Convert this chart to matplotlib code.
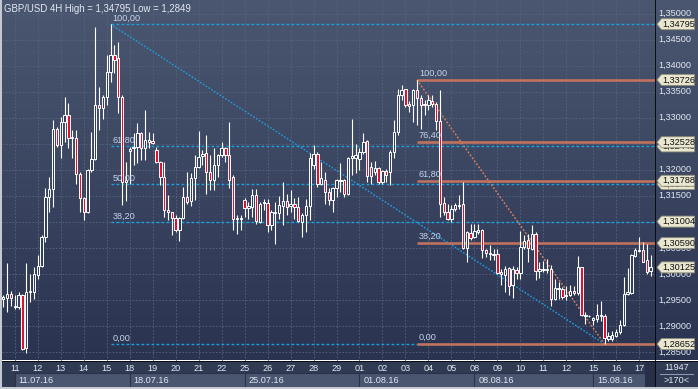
import numpy as np
import matplotlib
matplotlib.use('Agg')
import matplotlib.pyplot as plt
from matplotlib.colors import LinearSegmentedColormap
from matplotlib.patches import Polygon, Rectangle

plt.rcParams['font.family'] = ['Liberation Sans', 'DejaVu Sans']

# ---------------- data ----------------
opens = [1.2952, 1.2953, 1.2962, 1.2939, 1.2936, 1.2960, 1.2857, 1.2965, 1.2966, 1.2998,
         1.3016, 1.3071, 1.3148, 1.3163, 1.3279, 1.3247, 1.3291, 1.3305, 1.3260, 1.3260,
         1.3191, 1.3146, 1.3119, 1.3199, 1.3220, 1.3324, 1.3318, 1.3340, 1.3388, 1.3421,
         1.3414, 1.3340, 1.3177, 1.3236, 1.3241, 1.3244, 1.3270, 1.3241, 1.3254, 1.3255,
         1.3237, 1.3215, 1.3186, 1.3122, 1.3118, 1.3108, 1.3084, 1.3108, 1.3148, 1.3139,
         1.3184, 1.3205, 1.3227, 1.3233, 1.3195, 1.3180, 1.3210, 1.3229, 1.3242, 1.3228,
         1.3187, 1.3105, 1.3107, 1.3141, 1.3127, 1.3128, 1.3152, 1.3100, 1.3136, 1.3137,
         1.3093, 1.3118, 1.3117, 1.3130, 1.3139, 1.3130, 1.3135, 1.3128, 1.3100, 1.3114,
         1.3130, 1.3209, 1.3231, 1.3173, 1.3180, 1.3157, 1.3141, 1.3165, 1.3179, 1.3180,
         1.3154, 1.3222, 1.3222, 1.3220, 1.3234, 1.3255, 1.3205, 1.3196, 1.3203, 1.3177,
         1.3197, 1.3196, 1.3234, 1.3273, 1.3343, 1.3355, 1.3327, 1.3324, 1.3353, 1.3338,
         1.3324, 1.3324, 1.3332, 1.3327, 1.3293, 1.3137, 1.3119, 1.3105, 1.3124, 1.3130,
         1.3135, 1.3050, 1.3079, 1.3071, 1.3080, 1.3084, 1.3045, 1.3039, 1.3037, 1.3039,
         1.3004, 1.2998, 1.3011, 1.2978, 1.3007, 1.3002, 1.3052, 1.3066, 1.3048, 1.3077,
         1.3005, 1.3007, 1.3010, 1.3009, 1.2952, 1.2970, 1.2970, 1.2957, 1.2959, 1.2968,
         1.2964, 1.3013, 1.2919, 1.2920, 1.2911, 1.2914, 1.2919, 1.2920, 1.2875, 1.2874,
         1.2880, 1.2888, 1.2901, 1.2962, 1.2964, 1.3034, 1.3043, 1.3046, 1.3026, 1.3005]
highs = [1.2959, 1.3020, 1.2968, 1.2959, 1.2965, 1.2962, 1.3020, 1.3000, 1.3013, 1.3036,
         1.3074, 1.3164, 1.3186, 1.3295, 1.3282, 1.3302, 1.3340, 1.3329, 1.3276, 1.3276,
         1.3196, 1.3148, 1.3202, 1.3273, 1.3475, 1.3359, 1.3343, 1.3420, 1.34795, 1.3439,
         1.3446, 1.3343, 1.3215, 1.3244, 1.3270, 1.3289, 1.3273, 1.3314, 1.3273, 1.3271,
         1.3244, 1.3216, 1.3215, 1.3152, 1.3119, 1.3114, 1.3109, 1.3167, 1.3196, 1.3193,
         1.3228, 1.3274, 1.3237, 1.3266, 1.3228, 1.3241, 1.3231, 1.3253, 1.3244, 1.3292,
         1.3189, 1.3114, 1.3114, 1.3145, 1.3138, 1.3163, 1.3163, 1.3138, 1.3143, 1.3143,
         1.3122, 1.3138, 1.3150, 1.3177, 1.3154, 1.3161, 1.3145, 1.3148, 1.3116, 1.3143,
         1.3233, 1.3247, 1.3234, 1.3215, 1.3196, 1.3164, 1.3166, 1.3183, 1.3212, 1.3183,
         1.3225, 1.3298, 1.3250, 1.3241, 1.3271, 1.3257, 1.3215, 1.3216, 1.3205, 1.3199,
         1.3201, 1.3237, 1.3295, 1.3356, 1.3362, 1.3356, 1.3332, 1.3356, 1.33726, 1.3343,
         1.3334, 1.3343, 1.3343, 1.3330, 1.3353, 1.3148, 1.3135, 1.3132, 1.3137, 1.3151,
         1.3177, 1.3082, 1.3095, 1.3095, 1.3095, 1.3087, 1.3048, 1.3056, 1.3048, 1.3048,
         1.3010, 1.3015, 1.3013, 1.3016, 1.3013, 1.3082, 1.3074, 1.3077, 1.3093, 1.3080,
         1.3023, 1.3024, 1.3029, 1.3018, 1.2991, 1.2984, 1.2975, 1.2977, 1.2979, 1.2977,
         1.3034, 1.3014, 1.2926, 1.2921, 1.2917, 1.2943, 1.2947, 1.2923, 1.2888, 1.2891,
         1.2895, 1.2911, 1.2994, 1.3011, 1.3039, 1.3050, 1.3071, 1.3061, 1.3058, 1.3037]
lows = [1.2936, 1.2926, 1.2939, 1.2933, 1.2933, 1.2854, 1.2849, 1.2946, 1.2952, 1.2991,
        1.3013, 1.3061, 1.3119, 1.3128, 1.3244, 1.3222, 1.3253, 1.3241, 1.3222, 1.3173,
        1.3119, 1.3103, 1.3116, 1.3196, 1.3218, 1.3276, 1.3298, 1.3324, 1.3369, 1.3385,
        1.3308, 1.3132, 1.3140, 1.3173, 1.3209, 1.3212, 1.3218, 1.3218, 1.3241, 1.3250,
        1.3212, 1.3170, 1.3109, 1.3103, 1.3074, 1.3080, 1.3063, 1.3105, 1.3135, 1.3130,
        1.3141, 1.3203, 1.3210, 1.3154, 1.3161, 1.3161, 1.3187, 1.3225, 1.3215, 1.3164,
        1.3084, 1.3077, 1.3084, 1.3109, 1.3106, 1.3109, 1.3095, 1.3097, 1.3122, 1.3080,
        1.3084, 1.3058, 1.3106, 1.3093, 1.3113, 1.3119, 1.3105, 1.3100, 1.3071, 1.3080,
        1.3103, 1.3202, 1.3167, 1.3170, 1.3135, 1.3132, 1.3119, 1.3148, 1.3157, 1.3148,
        1.3151, 1.3189, 1.3193, 1.3199, 1.3231, 1.3177, 1.3173, 1.3189, 1.3173, 1.3173,
        1.3177, 1.3170, 1.3222, 1.3266, 1.3334, 1.3321, 1.3311, 1.3292, 1.3286, 1.3279,
        1.3305, 1.3314, 1.3321, 1.3276, 1.3109, 1.3113, 1.3103, 1.3100, 1.3120, 1.3125,
        1.3048, 1.3022, 1.3066, 1.3069, 1.3077, 1.3030, 1.3032, 1.3026, 1.3026, 1.3000,
        1.2978, 1.2965, 1.2959, 1.2953, 1.2991, 1.2991, 1.3048, 1.3023, 1.3045, 1.2988,
        1.2992, 1.3004, 1.3002, 1.2939, 1.2949, 1.2952, 1.2952, 1.2949, 1.2957, 1.2959,
        1.2959, 1.2920, 1.2904, 1.2917, 1.2901, 1.2907, 1.2909, 1.28652, 1.2872, 1.2872,
        1.2878, 1.2885, 1.2900, 1.2959, 1.2962, 1.3032, 1.3042, 1.3022, 1.3000, 1.2996]
closes = [1.2955, 1.2962, 1.2953, 1.2936, 1.2960, 1.2856, 1.2965, 1.2968, 1.3000, 1.3016,
          1.3071, 1.3148, 1.3163, 1.3279, 1.3247, 1.3291, 1.3305, 1.3260, 1.3263, 1.3191,
          1.3146, 1.3119, 1.3199, 1.3220, 1.3324, 1.3318, 1.3340, 1.3388, 1.3421, 1.3411,
          1.3340, 1.3177, 1.3180, 1.3240, 1.3244, 1.3270, 1.3241, 1.3257, 1.3257, 1.3252,
          1.3215, 1.3186, 1.3122, 1.3118, 1.3108, 1.3084, 1.3108, 1.3148, 1.3138, 1.3184,
          1.3205, 1.3225, 1.3231, 1.3195, 1.3180, 1.3210, 1.3229, 1.3242, 1.3228, 1.3181,
          1.3105, 1.3107, 1.3105, 1.3127, 1.3130, 1.3152, 1.3101, 1.3135, 1.3138, 1.3093,
          1.3118, 1.3116, 1.3132, 1.3139, 1.3128, 1.3135, 1.3128, 1.3101, 1.3114, 1.3130,
          1.3222, 1.3231, 1.3173, 1.3184, 1.3157, 1.3141, 1.3164, 1.3180, 1.3181, 1.3154,
          1.3222, 1.3227, 1.3228, 1.3234, 1.3253, 1.3188, 1.3188, 1.3203, 1.3177, 1.3197,
          1.3189, 1.3234, 1.3273, 1.3343, 1.3353, 1.3325, 1.3323, 1.3353, 1.3338, 1.3325,
          1.3327, 1.3334, 1.3327, 1.3293, 1.3135, 1.3119, 1.3105, 1.3125, 1.3133, 1.3133,
          1.3050, 1.3080, 1.3069, 1.3082, 1.3084, 1.3045, 1.3041, 1.3041, 1.3039, 1.3002,
          1.3000, 1.3010, 1.2977, 1.3009, 1.3002, 1.3052, 1.3064, 1.3050, 1.3077, 1.3005,
          1.3009, 1.3010, 1.3007, 1.2952, 1.2972, 1.2973, 1.2955, 1.2960, 1.2968, 1.2964,
          1.3013, 1.2921, 1.2921, 1.2919, 1.2915, 1.2921, 1.2921, 1.2876, 1.2880, 1.2883,
          1.2889, 1.2902, 1.2962, 1.2965, 1.3036, 1.3045, 1.3046, 1.3023, 1.3004, 1.30125]

day_labels = ['11', '12', '13', '14', '15', '18', '19', '20', '21', '22', '25', '26', '27', '28',
              '29', '01', '02', '03', '04', '05', '08', '09', '10', '11', '12', '15', '16', '17']
day_pos = [3, 9, 15, 21, 27, 33, 39, 45, 51, 57, 63, 69, 75, 81, 87, 93, 99, 105, 111, 117,
           123, 129, 135, 141, 147, 154, 160, 166]
week_labels = ['11.07.16', '18.07.16', '25.07.16', '01.08.16', '08.08.16', '15.08.16']
week_pos = [3, 33, 63, 93, 123, 154]
week_end = 167.5

price_ticks = [1.285, 1.290, 1.295, 1.300, 1.305, 1.310, 1.315, 1.320, 1.325, 1.330,
               1.335, 1.340, 1.345, 1.350]
# axis labels that are completely covered by price tags in the reference
covered_ticks = [1.310, 1.325]

blue_levels = [100.0, 61.8, 50.0, 38.2, 0.0]
blue_hi, blue_lo = 1.34795, 1.28652
blue_start = 28
orange_levels = [100.0, 76.4, 61.8, 38.2, 0.0]
orange_hi, orange_lo = 1.33726, 1.28652
orange_start = 108
low_idx = 157

tag_values = [1.34795, 1.33726, 1.32528, 1.31788, 1.31004, 1.30590, 1.30125, 1.28652]
hidden_tag_values = [1.32448, 1.31724]

title = 'GBP/USD 4H High = 1,34795 Low = 1,2849'
counter_top = '11947'
counter_bottom = '>170<'

# ---------------- layout ----------------
W, H = 698, 389
fig = plt.figure(figsize=(W / 100, H / 100), dpi=100)
fig.patch.set_facecolor('#c3c8d1')


def frac(x0, y0, x1, y1):
    return [x0 / W, 1 - y1 / H, (x1 - x0) / W, (y1 - y0) / H]


XMIN, XMAX = -0.34, 170.16
YMIN, YMAX = 1.283365, 1.352596

ax = fig.add_axes(frac(2, 0, 655, 360.5))
ax_r = fig.add_axes(frac(655, 0, 698, 360.5))
ax_d = fig.add_axes(frac(2, 360.5, 655, 386.5))
ax_c = fig.add_axes(frac(655, 360.5, 698, 386.5))

cmap = LinearSegmentedColormap.from_list('bg', ['#4b5771', '#2a3350'])
grad = np.linspace(0, 1, 256).reshape(-1, 1)

for a in (ax, ax_r, ax_d, ax_c):
    for s in a.spines.values():
        s.set_visible(False)
    a.set_xticks([])
    a.set_yticks([])

ax.imshow(grad, extent=(XMIN, XMAX, YMIN, YMAX), aspect='auto', cmap=cmap, zorder=0,
          interpolation='bilinear')
ax.set_xlim(XMIN, XMAX)
ax.set_ylim(YMIN, YMAX)

ax_r.imshow(grad, extent=(0, 43, YMIN, YMAX), aspect='auto', cmap=cmap, zorder=0,
            interpolation='bilinear')
ax_r.set_xlim(0, 43)
ax_r.set_ylim(YMIN, YMAX)

# grid
grid_c = '#58647e'
ax.hlines(price_ticks, XMIN, XMAX, colors=grid_c, linestyles=(0, (2, 2)), lw=0.6, zorder=1)
ax.vlines(day_pos, YMIN, YMAX, colors=grid_c, linestyles=(0, (2, 2)), lw=0.6, zorder=1)

txt_c = '#e2e8f2'
fs = 6.6


def fmt(v, d=5):
    return f'{v:.{d}f}'.replace('.', ',')


# fib: blue
blue_c = '#1ba0e2'
for lvl in blue_levels:
    p = blue_lo + (blue_hi - blue_lo) * lvl / 100
    ax.hlines(p, blue_start, XMAX, colors=blue_c, linestyles=(0, (2, 1.6)), lw=1.0, zorder=2)
    ax.annotate(fmt(lvl, 2), (blue_start, p), xytext=(2, 1.5), textcoords='offset pixels',
                ha='left', va='bottom', fontsize=fs, color='#c4d4ec', zorder=6)
ax.plot([blue_start, low_idx], [blue_hi, blue_lo], color=blue_c, ls=(0, (1.2, 1.2)),
        lw=1.0, zorder=2)

# fib: orange
orange_c = '#bf725e'
for lvl in orange_levels:
    p = orange_lo + (orange_hi - orange_lo) * lvl / 100
    ax.hlines(p, orange_start, XMAX, colors=orange_c, lw=1.9, zorder=2)
    ax.annotate(fmt(lvl, 2), (orange_start, p), xytext=(2, 2), textcoords='offset pixels',
                ha='left', va='bottom', fontsize=fs, color='#c4d4ec', zorder=6)
ax.plot([orange_start, low_idx], [orange_hi, orange_lo], color='#d67d5c', ls=(0, (1.2, 1.2)),
        lw=1.1, zorder=2)

# candles
o = np.array(opens)
h = np.array(highs)
l = np.array(lows)
c = np.array(closes)
x = np.arange(len(o))
bull = c >= o
ax.vlines(x, l, h, colors='white', lw=0.8, zorder=3)
body_bottom = np.minimum(o, c)
body_h = np.maximum(np.abs(c - o), 0.00010)
ax.bar(x, body_h, bottom=body_bottom, width=0.62,
       color=np.where(bull, '#35415c', '#e2102e'), edgecolor='white', linewidth=0.7, zorder=4)

# title
fig.text(4 / W, 1 - 8.5 / H, title, ha='left', va='center', fontsize=6.9, color=txt_c)

# right price axis
ax_r.axvline(0.2, color='#05070c', lw=1.3, zorder=5)
for p in price_ticks:
    if any(abs(p - cv) < 1e-9 for cv in covered_ticks):
        continue
    ax_r.text(3, p, fmt(p), ha='left', va='center', fontsize=fs, color=txt_c, zorder=2)

th = 11.0 / 5200  # tag height in price units


def draw_tag(v, z):
    pts = [(2.0, v), (6.5, v + th / 2), (39.5, v + th / 2), (39.5, v - th / 2), (6.5, v - th / 2)]
    ax_r.add_patch(Polygon(pts, closed=True, facecolor='#e9e7cf', edgecolor='#8d8c78',
                           lw=0.6, zorder=z))
    ax_r.text(7.5, v, fmt(v), ha='left', va='center', fontsize=fs, color='#111111',
              zorder=z + 0.1)


for v in hidden_tag_values:
    draw_tag(v, 3)
for v in tag_values:
    draw_tag(v, 4)

# date axis
ax_d.set_facecolor('#303a53')
ax_d.set_xlim(XMIN, XMAX)
ax_d.set_ylim(26, 0)
ax_d.axhline(0.4, color='#05070c', lw=1.3)
for pos, lab in zip(day_pos, day_labels):
    ax_d.text(pos, 7.6, lab, ha='center', va='center', fontsize=fs, color=txt_c)
edges = week_pos + [week_end]
for i, lab in enumerate(week_labels):
    ax_d.add_patch(Rectangle((edges[i], 12.8), edges[i + 1] - edges[i], 13.2,
                             facecolor='#4a5670', edgecolor='#2b3347', lw=0.8))
    ax_d.text(edges[i] + 1.0, 19.6, lab, ha='left', va='center', fontsize=fs, color=txt_c)
ax_d.add_patch(Rectangle((week_end, 0.8), XMAX - week_end, 25.2, facecolor='#273048',
                         edgecolor='none'))

# counter box
ax_c.set_facecolor('#303a53')
ax_c.set_xlim(0, 43)
ax_c.set_ylim(26, 0)
ax_c.axhline(0.4, color='#05070c', lw=1.3)
ax_c.axvline(0.2, color='#05070c', lw=1.3)
ax_c.text(21.5, 7.4, counter_top, ha='center', va='center', fontsize=fs, color=txt_c)
ax_c.plot([5, 38], [13.2, 13.2], color='#8a96ac', lw=0.8)
ax_c.text(21.5, 19.6, counter_bottom, ha='center', va='center', fontsize=fs, color=txt_c)

fig.savefig('out.png', dpi=100, facecolor=fig.get_facecolor())
